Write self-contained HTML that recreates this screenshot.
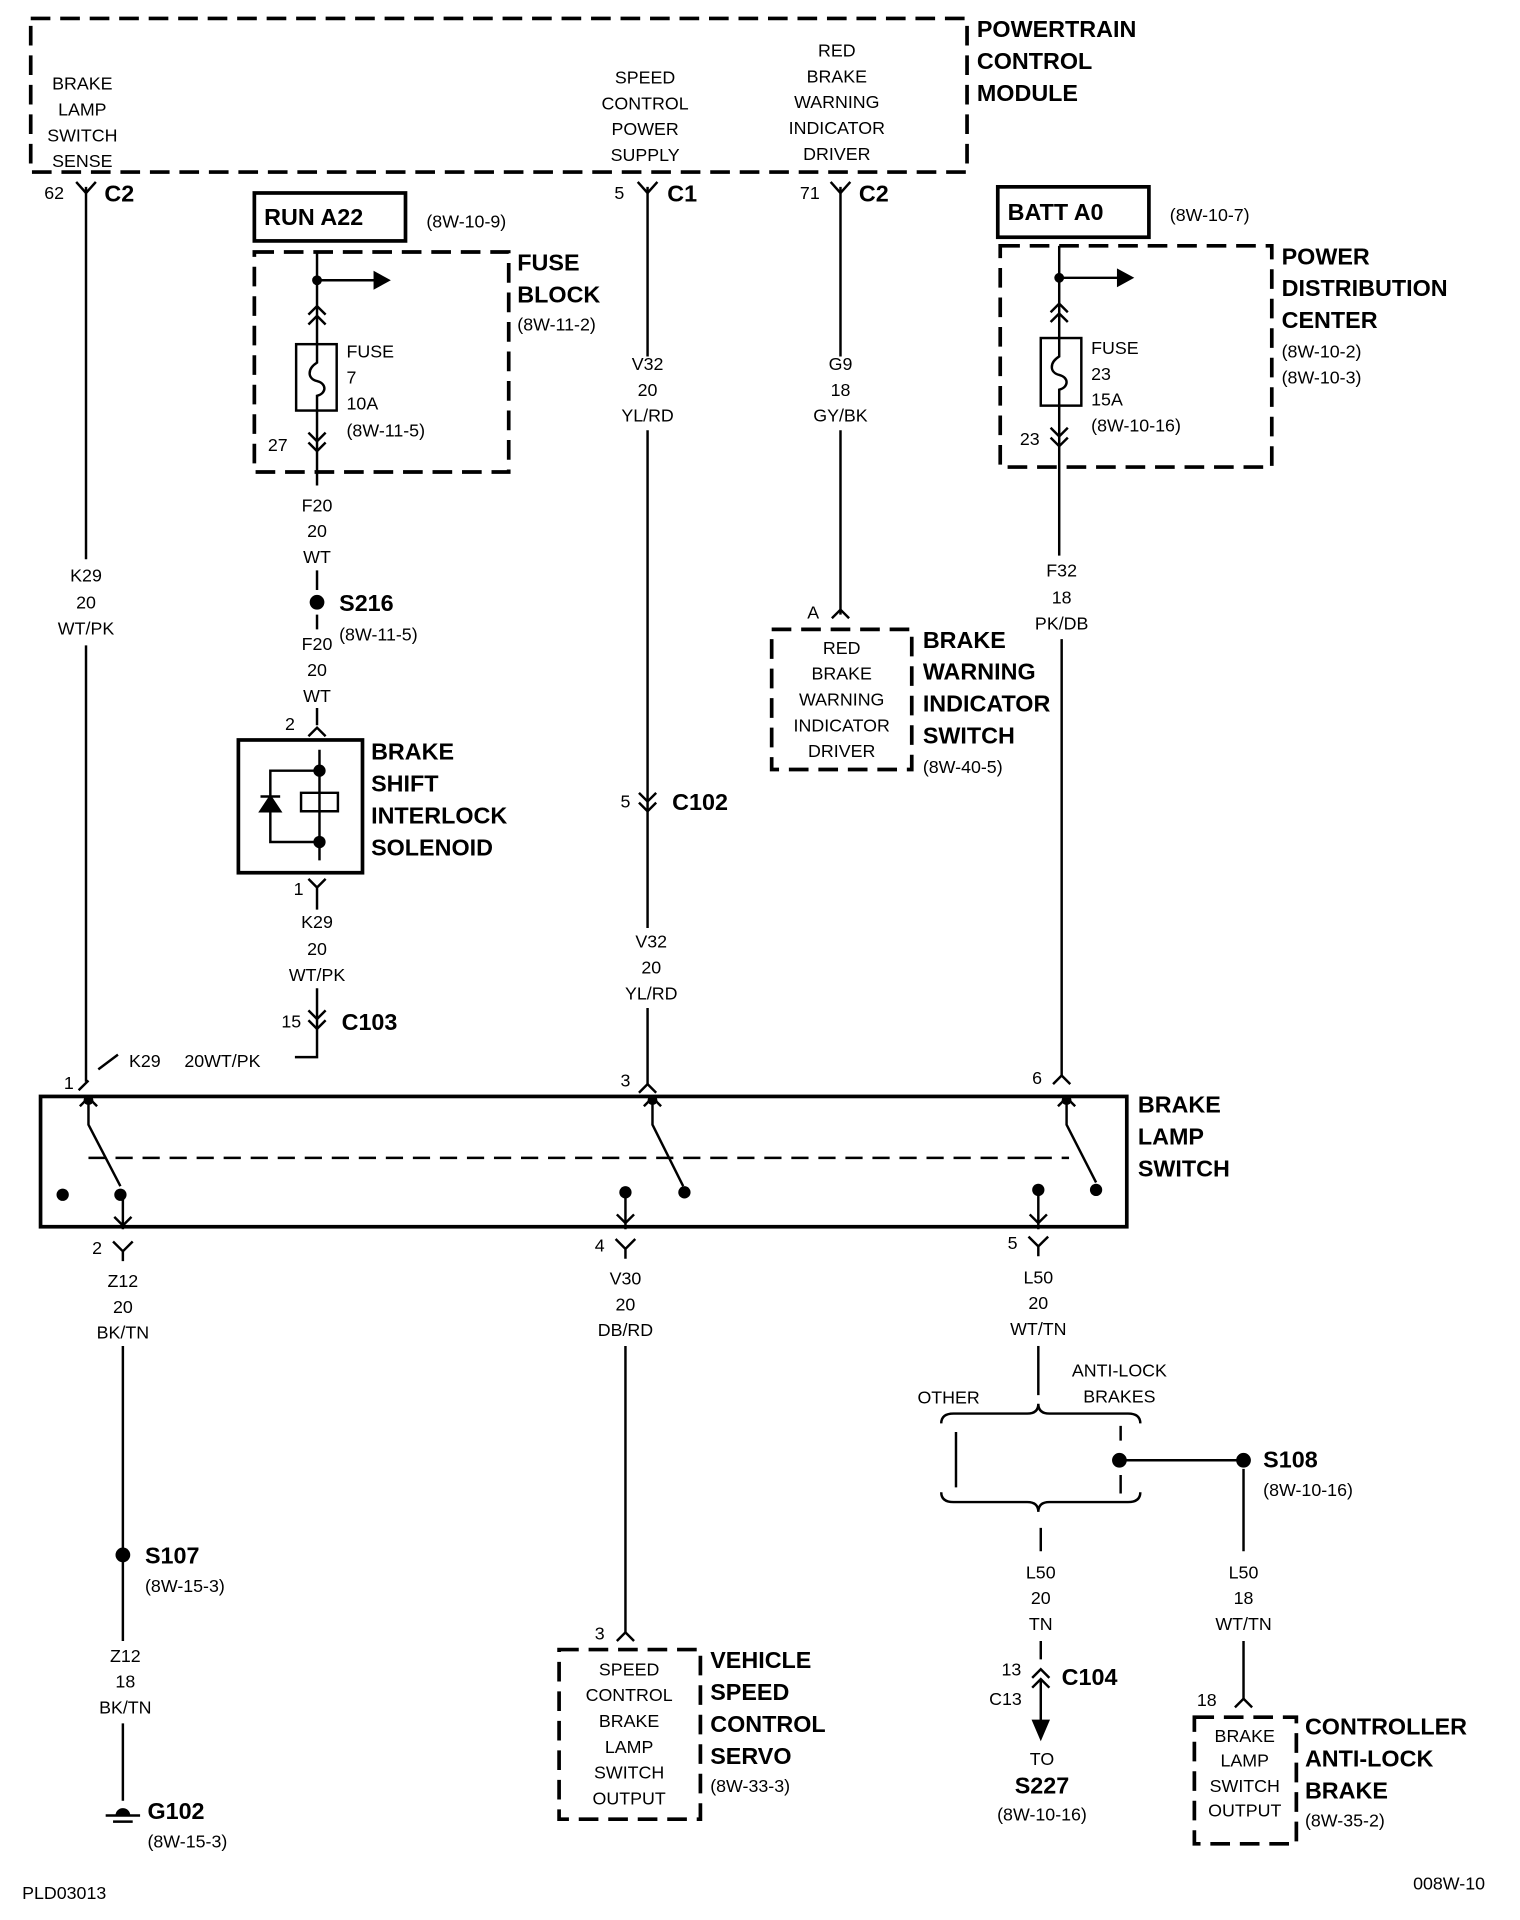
<!DOCTYPE html>
<html><head><meta charset="utf-8"><style>
html,body{margin:0;padding:0;background:#fff}
svg{display:block}
text{font-family:"Liberation Sans",sans-serif;font-size:14.5px;fill:#000}
.b{font-weight:bold;font-size:19px}
.c{text-anchor:middle}
</style></head><body>
<svg width="1520" height="1920" viewBox="0 0 1237 1562" preserveAspectRatio="none" xmlns="http://www.w3.org/2000/svg">
<g fill="none" stroke="#000" stroke-width="2">
<path d="M25 15 H787 V140 H25 V15" stroke-width="3" stroke-dasharray="16,8"/>
<path d="M70 152 V455 M70 525 V880"/>
<path d="M62 148 L70 157 L78 148"/>
<rect x="207" y="157" width="123" height="39" stroke-width="3"/>
<rect x="207" y="205" width="207" height="179" stroke-width="3" stroke-dasharray="16,8"/>
<path d="M258 205 V280 M258 334 V395"/>
<path d="M258 228 H305"/><path d="M305 222 L316 228 L305 234 Z" fill="#000"/>
<path d="M251 256 L258 249 L265 256 M251 264 L258 257 L265 264"/>
<path d="M251 352 L258 359 L265 352 M251 360 L258 367 L265 360"/>
<rect x="241" y="280" width="33" height="54"/>
<path d="M258 280 V295 C250 300 250 308 258 310 C266 312 266 320 258 322 V334"/>
<path d="M258 464 V480 M258 500 V512 M258 576 V590"/>
<path d="M251 599 L258 592 L265 599"/>
<rect x="194" y="602" width="101" height="108" stroke-width="3"/>
<path d="M260 610 V700 M260 627 H220 V685 H260 M260 635 V645 M245 645 H275 V660 H245 Z M260 660 V670"/>
<path d="M212 660 L220 648 L228 660 Z" fill="#000"/><path d="M212 648 H228"/>
<path d="M251 715 L258 722 L265 715 M258 722 V740"/>
<path d="M258 804 V860 H240"/>
<path d="M251 822 L258 829 L265 822 M251 830 L258 837 L265 830"/>
<path d="M527 152 V290 M527 350 V755 M527 820 V882"/>
<path d="M519 148 L527 157 L535 148"/>
<path d="M520 645 L527 652 L534 645 M520 653 L527 660 L534 653"/>
<path d="M520 889 L527 882 L534 889"/>
<path d="M684 152 V290 M684 350 V500"/>
<path d="M676 148 L684 157 L692 148"/>
<path d="M677 503 L684 496 L691 503"/>
<rect x="628" y="512" width="114" height="114" stroke-width="3" stroke-dasharray="16,8"/>
<rect x="812" y="152" width="123" height="41" stroke-width="3"/>
<rect x="814" y="200" width="221" height="180" stroke-width="3" stroke-dasharray="16,8"/>
<path d="M862 200 V275 M862 330 V452 M864 520 V875"/>
<path d="M862 226 H910"/><path d="M910 220 L921 226 L910 232 Z" fill="#000"/>
<path d="M855 254 L862 247 L869 254 M855 262 L862 255 L869 262"/>
<path d="M855 348 L862 355 L869 348 M855 356 L862 363 L869 356"/>
<rect x="847" y="275" width="33" height="55"/>
<path d="M862 275 V290 C854 295 854 303 862 305 C870 307 870 315 862 317 V330"/>
<path d="M857 882 L864 875 L871 882"/>
<path d="M64 887 L72 879 M80 870 L96 858"/>
<rect x="33" y="892" width="884" height="106" stroke-width="3"/>
<path d="M72 942 H870" stroke-dasharray="14,8"/>
<path d="M72 895 V915 L98 965 M100 972 V1000"/>
<path d="M65 900 L72 893 L79 900"/>
<path d="M531 895 V915 L556 965"/>
<path d="M524 900 L531 893 L538 900"/>
<path d="M868 895 V915 L892 962"/>
<path d="M861 900 L868 893 L875 900"/>
<path d="M509 970 V1000 M845 968 V1000"/>
<path d="M93 990 L100 997 L107 990"/>
<path d="M502 988 L509 995 L516 988"/>
<path d="M838 988 L845 995 L852 988"/>
<path d="M92 1010 L100 1018 L108 1010 M100 1018 V1026"/>
<path d="M501 1008 L509 1016 L517 1008 M509 1016 V1024"/>
<path d="M837 1006 L845 1014 L853 1006 M845 1014 V1022"/>
<path d="M100 1095 V1335 M100 1402 V1465 M86 1477 H114 M92 1482 H108"/>
<path d="M509 1095 V1328"/>
<path d="M502 1335 L509 1328 L516 1335"/>
<rect x="455" y="1342" width="115" height="138" stroke-width="3" stroke-dasharray="16,8"/>
<path d="M845 1095 V1135"/>
<path d="M766 1158 Q766 1150 776 1150 H836 Q845 1150 845 1142 Q845 1150 854 1150 H918 Q928 1150 928 1158"/>
<path d="M766 1214 Q766 1222 776 1222 H836 Q845 1222 845 1230 Q845 1222 854 1222 H918 Q928 1222 928 1214"/>
<path d="M778 1165 V1210 M912 1160 V1172 M912 1200 V1215"/>
<path d="M911 1188 H1010"/>
<path d="M847 1243 V1262 M847 1335 V1350"/>
<path d="M840 1365 L847 1358 L854 1365 M840 1373 L847 1366 L854 1373 M847 1366 V1405"/>
<path d="M841 1400 L847 1414 L853 1400 Z" fill="#000"/>
<path d="M1012 1195 V1262 M1012 1335 V1382"/>
<path d="M1005 1389 L1012 1382 L1019 1389"/>
<rect x="972" y="1397" width="83" height="103" stroke-width="3" stroke-dasharray="16,8"/>
</g>
<g fill="#000">
<circle cx="258" cy="228" r="4"/><circle cx="862" cy="226" r="4"/>
<circle cx="258" cy="490" r="6"/>
<circle cx="260" cy="627" r="5"/><circle cx="260" cy="685" r="5"/>
<circle cx="72" cy="895" r="4"/><circle cx="98" cy="972" r="5"/><circle cx="51" cy="972" r="5"/>
<circle cx="531" cy="895" r="4"/><circle cx="557" cy="970" r="5"/><circle cx="509" cy="970" r="5"/>
<circle cx="868" cy="895" r="4"/><circle cx="892" cy="968" r="5"/><circle cx="845" cy="968" r="5"/>
<circle cx="100" cy="1265" r="6"/><circle cx="911" cy="1188" r="6"/><circle cx="1012" cy="1188" r="6"/>
<path d="M94 1477 A6 6 0 0 1 106 1477 Z"/>
</g>
<text class="b" x="795" y="30">POWERTRAIN</text>
<text class="b" x="795" y="56">CONTROL</text>
<text class="b" x="795" y="82">MODULE</text>
<text class="c" x="67" y="73">BRAKE</text><text class="c" x="67" y="94">LAMP</text><text class="c" x="67" y="115">SWITCH</text><text class="c" x="67" y="136">SENSE</text>
<text class="c" x="525" y="68">SPEED</text><text class="c" x="525" y="89">CONTROL</text><text class="c" x="525" y="110">POWER</text><text class="c" x="525" y="131">SUPPLY</text>
<text class="c" x="681" y="46">RED</text><text class="c" x="681" y="67">BRAKE</text><text class="c" x="681" y="88">WARNING</text><text class="c" x="681" y="109">INDICATOR</text><text class="c" x="681" y="130">DRIVER</text>
<text x="36" y="162">62</text><text class="b" x="85" y="164">C2</text>
<text x="500" y="162">5</text><text class="b" x="543" y="164">C1</text>
<text x="651" y="162">71</text><text class="b" x="699" y="164">C2</text>
<text class="b" x="215" y="183">RUN A22</text><text x="347" y="185">(8W-10-9)</text>
<text class="b" x="421" y="220">FUSE</text><text class="b" x="421" y="246">BLOCK</text><text x="421" y="269">(8W-11-2)</text>
<text x="282" y="291">FUSE</text><text x="282" y="312">7</text><text x="282" y="333">10A</text><text x="282" y="355">(8W-11-5)</text>
<text x="218" y="367">27</text>
<text class="c" x="258" y="416">F20</text><text class="c" x="258" y="437">20</text><text class="c" x="258" y="458">WT</text>
<text class="b" x="276" y="497">S216</text><text x="276" y="521">(8W-11-5)</text>
<text class="c" x="258" y="529">F20</text><text class="c" x="258" y="550">20</text><text class="c" x="258" y="571">WT</text>
<text x="232" y="594">2</text>
<text class="b" x="302" y="618">BRAKE</text><text class="b" x="302" y="644">SHIFT</text><text class="b" x="302" y="670">INTERLOCK</text><text class="b" x="302" y="696">SOLENOID</text>
<text x="239" y="728">1</text>
<text class="c" x="258" y="755">K29</text><text class="c" x="258" y="777">20</text><text class="c" x="258" y="798">WT/PK</text>
<text x="229" y="836">15</text><text class="b" x="278" y="838">C103</text>
<text class="c" x="70" y="473">K29</text><text class="c" x="70" y="495">20</text><text class="c" x="70" y="516">WT/PK</text>
<text x="105" y="868">K29</text><text x="150" y="868">20WT/PK</text>
<text x="52" y="886">1</text><text x="505" y="884">3</text><text x="840" y="882">6</text>
<text class="c" x="527" y="301">V32</text><text class="c" x="527" y="322">20</text><text class="c" x="527" y="343">YL/RD</text>
<text x="505" y="657">5</text><text class="b" x="547" y="659">C102</text>
<text class="c" x="530" y="771">V32</text><text class="c" x="530" y="792">20</text><text class="c" x="530" y="813">YL/RD</text>
<text class="c" x="684" y="301">G9</text><text class="c" x="684" y="322">18</text><text class="c" x="684" y="343">GY/BK</text>
<text x="657" y="503">A</text>
<text class="c" x="685" y="532">RED</text><text class="c" x="685" y="553">BRAKE</text><text class="c" x="685" y="574">WARNING</text><text class="c" x="685" y="595">INDICATOR</text><text class="c" x="685" y="616">DRIVER</text>
<text class="b" x="751" y="527">BRAKE</text><text class="b" x="751" y="553">WARNING</text><text class="b" x="751" y="579">INDICATOR</text><text class="b" x="751" y="605">SWITCH</text><text x="751" y="629">(8W-40-5)</text>
<text class="b" x="820" y="179">BATT A0</text><text x="952" y="180">(8W-10-7)</text>
<text class="b" x="1043" y="215">POWER</text><text class="b" x="1043" y="241">DISTRIBUTION</text><text class="b" x="1043" y="267">CENTER</text>
<text x="1043" y="291">(8W-10-2)</text><text x="1043" y="312">(8W-10-3)</text>
<text x="888" y="288">FUSE</text><text x="888" y="309">23</text><text x="888" y="330">15A</text><text x="888" y="351">(8W-10-16)</text>
<text x="830" y="362">23</text>
<text class="c" x="864" y="469">F32</text><text class="c" x="864" y="491">18</text><text class="c" x="864" y="512">PK/DB</text>
<text class="b" x="926" y="905">BRAKE</text><text class="b" x="926" y="931">LAMP</text><text class="b" x="926" y="957">SWITCH</text>
<text x="75" y="1020">2</text><text x="484" y="1018">4</text><text x="820" y="1016">5</text>
<text class="c" x="100" y="1047">Z12</text><text class="c" x="100" y="1068">20</text><text class="c" x="100" y="1089">BK/TN</text>
<text class="c" x="509" y="1045">V30</text><text class="c" x="509" y="1066">20</text><text class="c" x="509" y="1087">DB/RD</text>
<text class="c" x="845" y="1044">L50</text><text class="c" x="845" y="1065">20</text><text class="c" x="845" y="1086">WT/TN</text>
<text class="c" x="772" y="1142">OTHER</text>
<text class="c" x="911" y="1120">ANTI-LOCK</text><text class="c" x="911" y="1141">BRAKES</text>
<text class="b" x="1028" y="1194">S108</text><text x="1028" y="1217">(8W-10-16)</text>
<text class="b" x="118" y="1272">S107</text><text x="118" y="1295">(8W-15-3)</text>
<text class="c" x="102" y="1352">Z12</text><text class="c" x="102" y="1373">18</text><text class="c" x="102" y="1394">BK/TN</text>
<text class="b" x="120" y="1480">G102</text><text x="120" y="1503">(8W-15-3)</text>
<text x="484" y="1334">3</text>
<text class="c" x="512" y="1363">SPEED</text><text class="c" x="512" y="1384">CONTROL</text><text class="c" x="512" y="1405">BRAKE</text><text class="c" x="512" y="1426">LAMP</text><text class="c" x="512" y="1447">SWITCH</text><text class="c" x="512" y="1468">OUTPUT</text>
<text class="b" x="578" y="1357">VEHICLE</text><text class="b" x="578" y="1383">SPEED</text><text class="b" x="578" y="1409">CONTROL</text><text class="b" x="578" y="1435">SERVO</text><text x="578" y="1458">(8W-33-3)</text>
<text class="c" x="847" y="1284">L50</text><text class="c" x="847" y="1305">20</text><text class="c" x="847" y="1326">TN</text>
<text x="815" y="1363">13</text><text x="805" y="1387">C13</text><text class="b" x="864" y="1371">C104</text>
<text class="c" x="848" y="1436">TO</text><text class="b c" x="848" y="1459">S227</text><text class="c" x="848" y="1481">(8W-10-16)</text>
<text class="c" x="1012" y="1284">L50</text><text class="c" x="1012" y="1305">18</text><text class="c" x="1012" y="1326">WT/TN</text>
<text x="974" y="1388">18</text>
<text class="c" x="1013" y="1417">BRAKE</text><text class="c" x="1013" y="1437">LAMP</text><text class="c" x="1013" y="1458">SWITCH</text><text class="c" x="1013" y="1478">OUTPUT</text>
<text class="b" x="1062" y="1411">CONTROLLER</text><text class="b" x="1062" y="1437">ANTI-LOCK</text><text class="b" x="1062" y="1463">BRAKE</text><text x="1062" y="1486">(8W-35-2)</text>
<text x="18" y="1545">PLD03013</text><text x="1150" y="1537">008W-10</text>
</svg>
</body></html>
